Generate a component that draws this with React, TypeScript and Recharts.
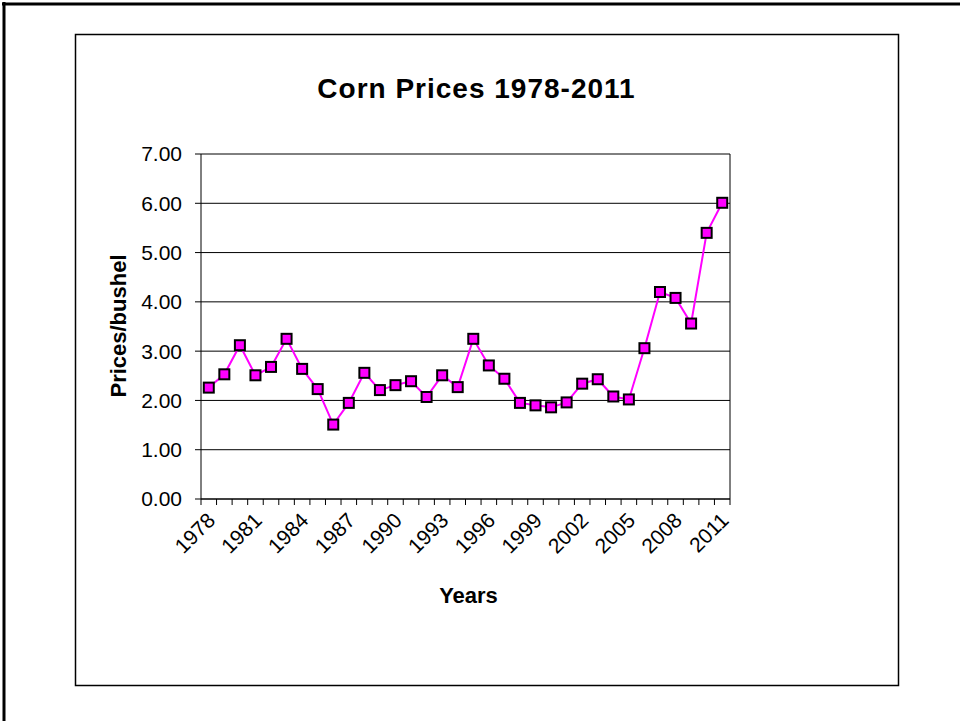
import React from 'react'
import {
  LineChart,
  Line,
  XAxis,
  YAxis,
  CartesianGrid,
  ReferenceLine,
} from 'recharts'

const years = [
  '1978', '1979', '1980', '1981', '1982', '1983', '1984', '1985', '1986', '1987',
  '1988', '1989', '1990', '1991', '1992', '1993', '1994', '1995', '1996', '1997',
  '1998', '1999', '2000', '2001', '2002', '2003', '2004', '2005', '2006', '2007',
  '2008', '2009', '2010', '2011',
]

const prices = [
  2.26, 2.53, 3.12, 2.51, 2.68, 3.25, 2.64, 2.23, 1.51, 1.95,
  2.56, 2.21, 2.31, 2.39, 2.07, 2.51, 2.27, 3.25, 2.71, 2.44,
  1.95, 1.9, 1.86, 1.96, 2.34, 2.43, 2.08, 2.02, 3.06, 4.2,
  4.08, 3.56, 5.4, 6.01,
]

const labelYears = ['1978', '1981', '1984', '1987', '1990', '1993', '1996', '1999', '2002', '2005', '2008', '2011']
const yTicks = [0, 1, 2, 3, 4, 5, 6, 7]

const FONT = '"Liberation Sans", Arial, sans-serif'
const MAGENTA = '#FF00FF'

// each category sits in the middle of its slot (Excel "between tick marks" style)
const data = years.map((year, i) => ({ pos: i + 0.5, year, price: prices[i] }))
const boundaryTicks = years.map((_, i) => i).concat(years.length)
const labelTicks = labelYears.map((y) => years.indexOf(y) + 0.5)
const xTicks = [...boundaryTicks, ...labelTicks].sort((a, b) => a - b)

function XTick(props: any) {
  const { x, y, payload } = props
  const v = payload.value as number
  if (Number.isInteger(v)) {
    return <line x1={x} y1={y} x2={x} y2={y + 6} stroke="#000" strokeWidth={1} />
  }
  const ax = x - 3
  const ay = y + 12
  return (
    <text
      x={ax}
      y={ay}
      dy="0.72em"
      textAnchor="end"
      transform={`rotate(-45 ${ax} ${ay})`}
      fontSize={21}
      fontFamily={FONT}
      fill="#000"
    >
      {years[Math.floor(v)]}
    </text>
  )
}

function SquareDot(props: any) {
  const { cx, cy, index } = props
  if (cx == null || cy == null) return null
  return (
    <rect
      key={`d-${index}`}
      x={cx - 5}
      y={cy - 5}
      width={10}
      height={10}
      fill={MAGENTA}
      stroke="#000"
      strokeWidth={2}
    />
  )
}

export default function App() {
  return (
    <div style={{ position: 'absolute', left: 0, top: 0, width: 960, height: 721, background: '#fff' }}>
      <LineChart
        width={960}
        height={721}
        data={data}
        margin={{ top: 154, right: 230, bottom: 162, left: 121 }}
      >
        <CartesianGrid vertical={false} stroke="#000" strokeWidth={1} />
        <XAxis
          type="number"
          dataKey="pos"
          domain={[0, years.length]}
          ticks={xTicks}
          interval={0}
          tick={<XTick />}
          tickLine={false}
          tickSize={0}
          tickMargin={0}
          axisLine={{ stroke: '#000', strokeWidth: 1 }}
          height={60}
        />
        <YAxis
          type="number"
          domain={[0, 7]}
          ticks={yTicks}
          interval={0}
          width={80}
          tickFormatter={(v: number) => v.toFixed(2)}
          tick={{ fontSize: 21, fill: '#000', fontFamily: FONT }}
          tickSize={6}
          tickMargin={13}
          tickLine={{ stroke: '#000' }}
          axisLine={{ stroke: '#000', strokeWidth: 1 }}
        />
        <ReferenceLine x={years.length} stroke="#000" strokeWidth={1} />
        <Line
          type="linear"
          dataKey="price"
          stroke={MAGENTA}
          strokeWidth={2}
          dot={<SquareDot />}
          activeDot={false}
          isAnimationActive={false}
        />
      </LineChart>
      <svg
        width={960}
        height={721}
        style={{ position: 'absolute', left: 0, top: 0, pointerEvents: 'none' }}
      >
        <line x1={2} y1={4} x2={960} y2={4} stroke="#000" strokeWidth={3} />
        <line x1={4} y1={2} x2={4} y2={721} stroke="#000" strokeWidth={3} />
        <rect x={75.5} y={34.5} width={823} height={651} fill="none" stroke="#000" strokeWidth={1.5} />
        <text
          x={476.5}
          y={98}
          textAnchor="middle"
          fontSize={28}
          fontWeight="bold"
          letterSpacing={1}
          fontFamily={FONT}
          fill="#000"
        >
          Corn Prices 1978-2011
        </text>
        <text
          x={468.5}
          y={603}
          textAnchor="middle"
          fontSize={22}
          fontWeight="bold"
          fontFamily={FONT}
          fill="#000"
        >
          Years
        </text>
        <text
          x={126}
          y={326}
          textAnchor="middle"
          transform="rotate(-90 126 326)"
          fontSize={22}
          fontWeight="bold"
          fontFamily={FONT}
          fill="#000"
        >
          Prices/bushel
        </text>
      </svg>
    </div>
  )
}
